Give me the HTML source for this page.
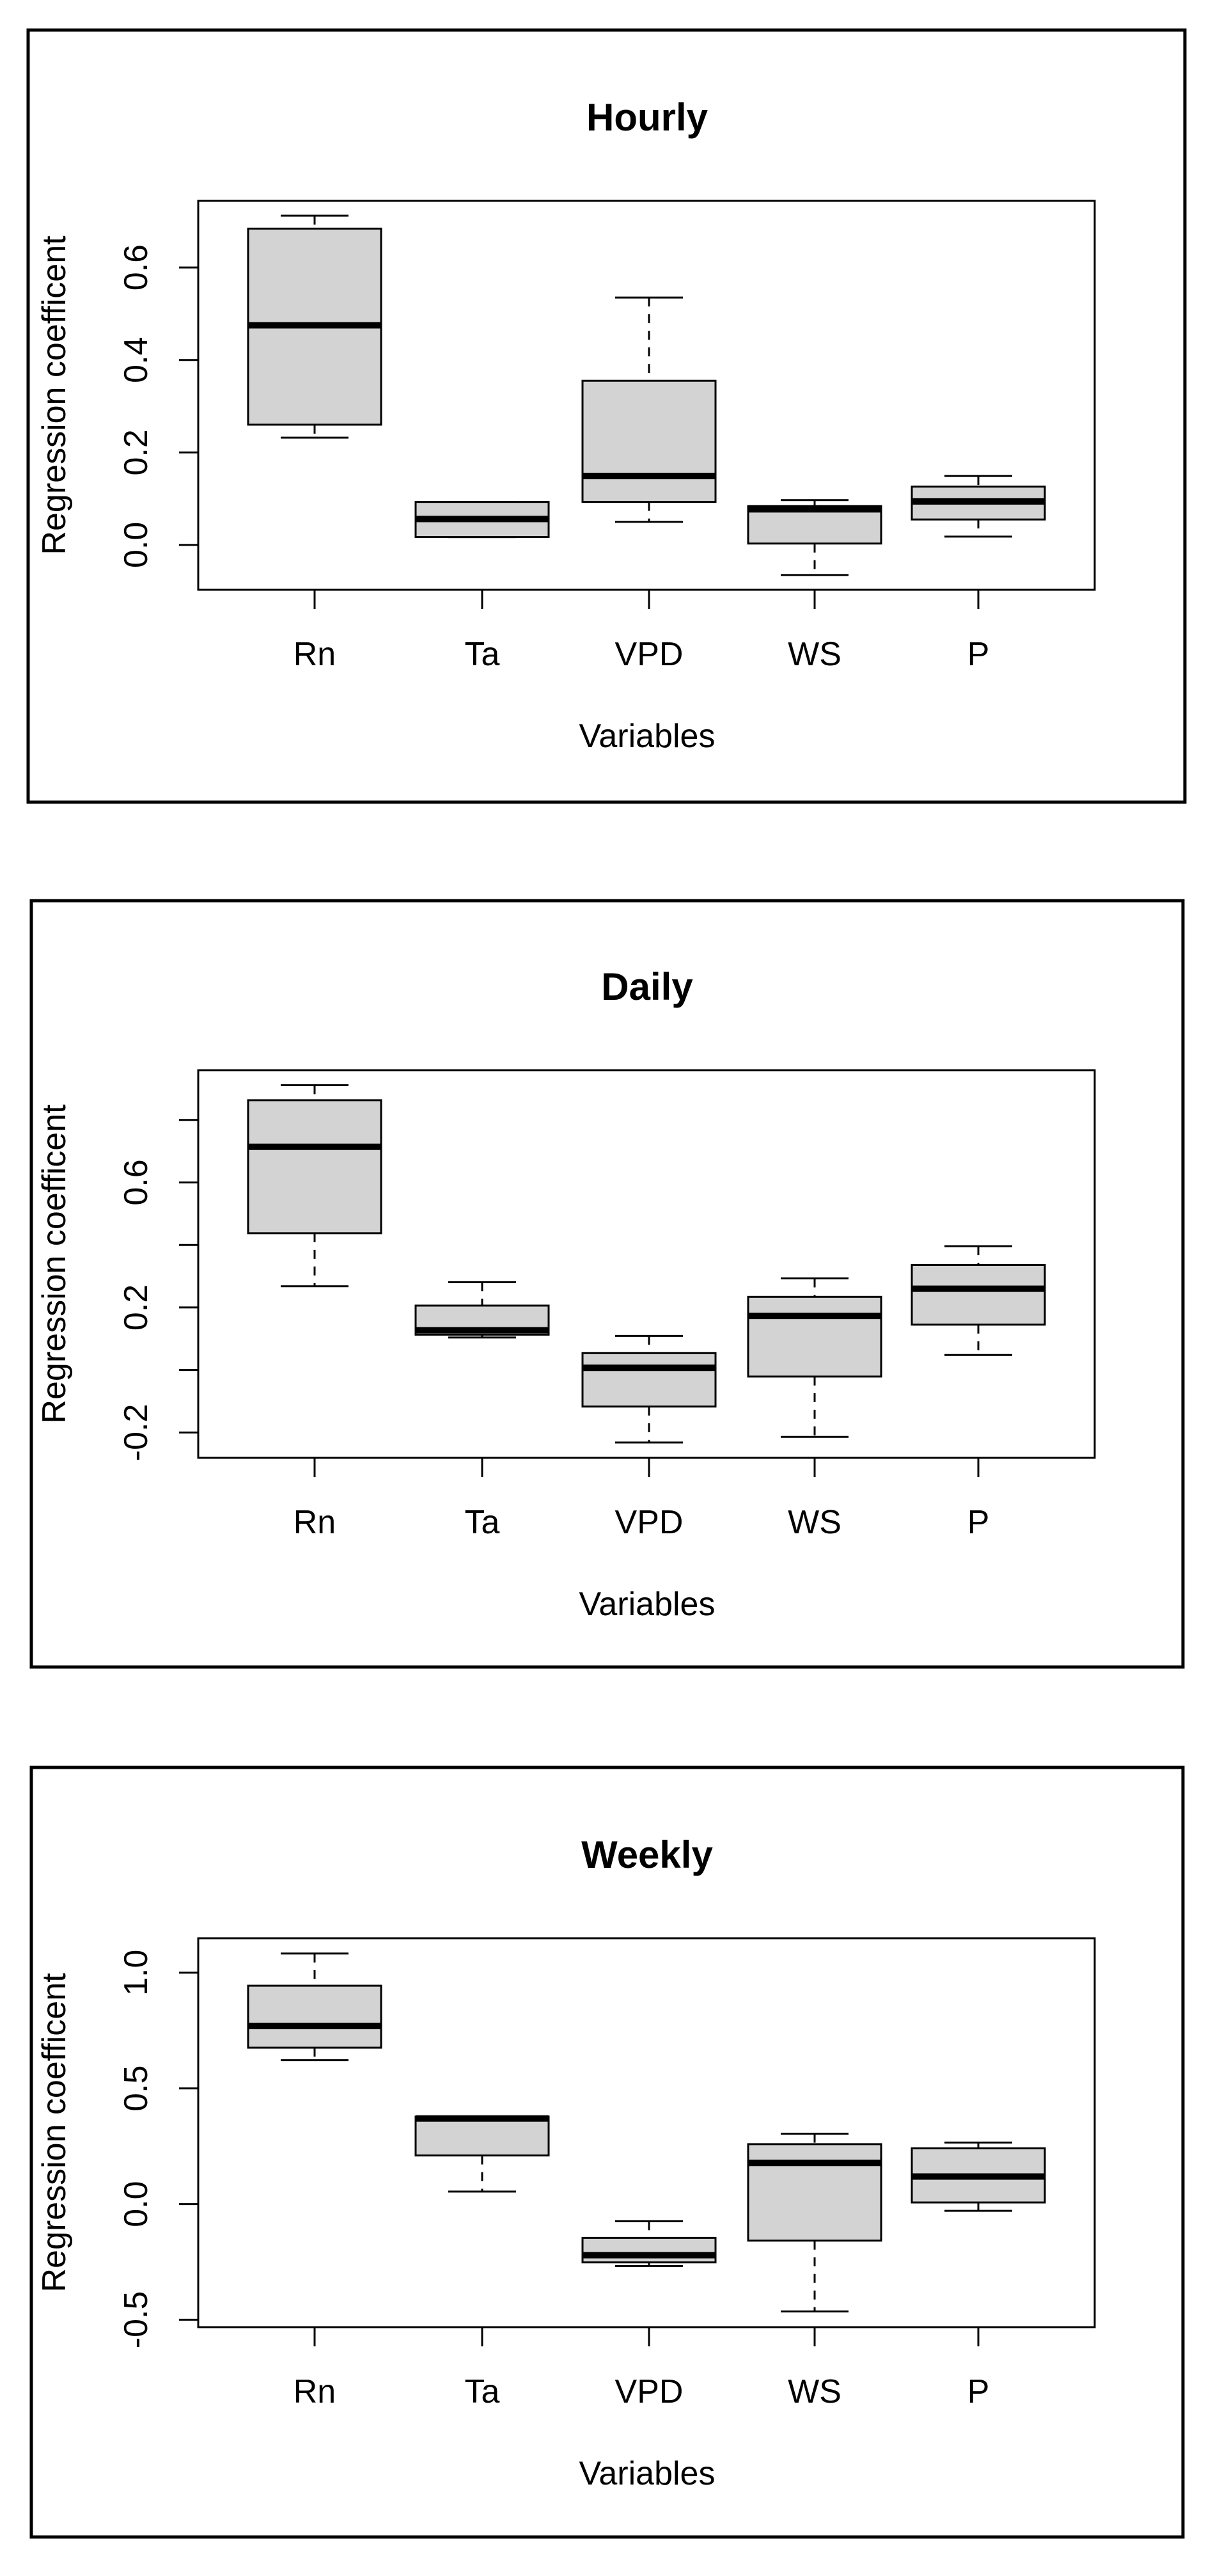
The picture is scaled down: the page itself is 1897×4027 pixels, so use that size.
<!DOCTYPE html>
<html><head><meta charset="utf-8">
<style>
html,body{margin:0;padding:0;background:#fff;}
svg{display:block;font-family:"Liberation Sans",Arial,sans-serif;}
</style></head>
<body>
<svg id="fig" xmlns="http://www.w3.org/2000/svg" width="1897" height="4027" viewBox="0 0 1897 4027"></svg>
<script>
const categories = ["Rn","Ta","VPD","WS","P"];
// Hourly: [lowerWhisker, q1, median, q3, upperWhisker]
const hourlyLow   = [0.232, 0.017, 0.050, -0.065, 0.018];
const hourlyQ1    = [0.260, 0.017, 0.093, 0.003, 0.055];
const hourlyMed   = [0.475, 0.056, 0.149, 0.077, 0.094];
const hourlyQ3    = [0.684, 0.093, 0.355, 0.084, 0.126];
const hourlyHigh  = [0.712, 0.093, 0.535, 0.097, 0.149];
const hourlyTicks = [0.0, 0.2, 0.4, 0.6];
const hourlyTickLabels = ["0.0","0.2","0.4","0.6"];
// Daily
const dailyLow   = [0.268, 0.104, -0.232, -0.214, 0.048];
const dailyQ1    = [0.4375, 0.113, -0.117, -0.021, 0.145];
const dailyMed   = [0.714, 0.127, 0.007, 0.173, 0.260];
const dailyQ3    = [0.863, 0.206, 0.054, 0.234, 0.336];
const dailyHigh  = [0.911, 0.281, 0.109, 0.293, 0.396];
const dailyTicks = [-0.2, 0.0, 0.2, 0.4, 0.6, 0.8];
const dailyTickLabels = ["-0.2","","0.2","","0.6",""];
// Weekly
const weeklyLow   = [0.622, 0.054, -0.268, -0.464, -0.029];
const weeklyQ1    = [0.676, 0.210, -0.252, -0.158, 0.007];
const weeklyMed   = [0.770, 0.370, -0.221, 0.178, 0.119];
const weeklyQ3    = [0.944, 0.378, -0.146, 0.259, 0.241];
const weeklyHigh  = [1.083, 0.378, -0.074, 0.304, 0.266];
const weeklyTicks = [-0.5, 0.0, 0.5, 1.0];
const weeklyTickLabels = ["-0.5","0.0","0.5","1.0"];

const NS = "http://www.w3.org/2000/svg";
const svg = document.getElementById("fig");
function mk(tag, attrs, parent){
  const e = document.createElementNS(NS, tag);
  for (const k in attrs) e.setAttribute(k, attrs[k]);
  (parent||svg).appendChild(e);
  return e;
}
const plotX0 = 310, plotX1 = 1712;
const catX = [492, 754, 1015, 1274, 1530];
function xPos(i){ return catX[i]; }

function panel(cfg){
  const g = mk("g", {});
  
  
  const frame = mk("rect", {x:cfg.ox0, y:cfg.oy0, width:cfg.ox1-cfg.ox0, height:cfg.oy1-cfg.oy0, fill:"none", stroke:"#000", "stroke-width":5}, g);
  
  
  const y = v => cfg.py1 - (v - cfg.vmin) / (cfg.vmax - cfg.vmin) * (cfg.py1 - cfg.py0);
  const title = mk("text", {x:1012, y:cfg.py0-110, "text-anchor":"middle", "font-size":60, "font-weight":"bold"}, g);
  title.textContent = cfg.title;
  
  
  for (let i=0;i<categories.length;i++){
    const cx = xPos(i), hw = 104, cw = 53;
    const bg = mk("g", {}, g);
    
    
    const lo=cfg.low[i], q1=cfg.q1[i], md=cfg.med[i], q3=cfg.q3[i], hi=cfg.high[i];
    if (y(hi) < y(q3)-1) mk("line",{x1:cx,x2:cx,y1:y(hi),y2:y(q3),stroke:"#000","stroke-width":3,"stroke-dasharray":"14 12"},bg);
    if (y(lo) > y(q1)+1) mk("line",{x1:cx,x2:cx,y1:y(q1),y2:y(lo),stroke:"#000","stroke-width":3,"stroke-dasharray":"14 12"},bg);
    mk("line",{x1:cx-cw,x2:cx+cw,y1:y(hi),y2:y(hi),stroke:"#000","stroke-width":3},bg);
    mk("line",{x1:cx-cw,x2:cx+cw,y1:y(lo),y2:y(lo),stroke:"#000","stroke-width":3},bg);
    mk("rect",{x:cx-hw,y:y(q3),width:2*hw,height:Math.max(1,y(q1)-y(q3)),fill:"#d3d3d3",stroke:"#000","stroke-width":3},bg);
    mk("line",{x1:cx-hw,x2:cx+hw,y1:y(md),y2:y(md),stroke:"#000","stroke-width":10},bg);
  }
  const pr = mk("rect",{x:plotX0,y:cfg.py0,width:plotX1-plotX0,height:cfg.py1-cfg.py0,fill:"none",stroke:"#000","stroke-width":3},g);
  
  
  const ya = mk("g",{},g);
  
  
  const t0 = y(cfg.ticks[0]), t1 = y(cfg.ticks[cfg.ticks.length-1]);
  mk("line",{x1:plotX0,x2:plotX0,y1:t0,y2:t1,stroke:"#000","stroke-width":3},ya);
  for (let k=0;k<cfg.ticks.length;k++){
    const ty = y(cfg.ticks[k]);
    mk("line",{x1:plotX0-30,x2:plotX0,y1:ty,y2:ty,stroke:"#000","stroke-width":3},ya);
    if (cfg.tickLabels[k]){
      const t = mk("text",{x:230,y:ty,"text-anchor":"middle","font-size":52,transform:`rotate(-90 230 ${ty})`},ya);
      t.textContent = cfg.tickLabels[k];
      
      
    }
  }
  const yl = mk("text",{x:102,y:(cfg.py0+cfg.py1)/2,"text-anchor":"middle","font-size":52,transform:`rotate(-90 102 ${(cfg.py0+cfg.py1)/2})`},g);
  yl.textContent = "Regression coefficent";
  
  
  const xa = mk("g",{},g);
  
  
  for (let i=0;i<categories.length;i++){
    mk("line",{x1:xPos(i),x2:xPos(i),y1:cfg.py1,y2:cfg.py1+30,stroke:"#000","stroke-width":3},xa);
    const t = mk("text",{x:xPos(i),y:cfg.py1+118,"text-anchor":"middle","font-size":52},xa);
    t.textContent = categories[i];
    
    
  }
  const xl = mk("text",{x:1012,y:cfg.py1+246,"text-anchor":"middle","font-size":52},g);
  xl.textContent = "Variables";
  
  
}

panel({name:"hourly", title:"Hourly", ox0:44, oy0:47, ox1:1853, oy1:1254, py0:314, py1:922, vmin:-0.097, vmax:0.744,
  low:hourlyLow, q1:hourlyQ1, med:hourlyMed, q3:hourlyQ3, high:hourlyHigh, ticks:hourlyTicks, tickLabels:hourlyTickLabels});
panel({name:"daily", title:"Daily", ox0:49, oy0:1408, ox1:1850, oy1:2606, py0:1673, py1:2279, vmin:-0.281, vmax:0.959,
  low:dailyLow, q1:dailyQ1, med:dailyMed, q3:dailyQ3, high:dailyHigh, ticks:dailyTicks, tickLabels:dailyTickLabels});
panel({name:"weekly", title:"Weekly", ox0:49, oy0:2763, ox1:1850, oy1:3966, py0:3030, py1:3638, vmin:-0.532, vmax:1.149,
  low:weeklyLow, q1:weeklyQ1, med:weeklyMed, q3:weeklyQ3, high:weeklyHigh, ticks:weeklyTicks, tickLabels:weeklyTickLabels});
</script>
</body></html>
